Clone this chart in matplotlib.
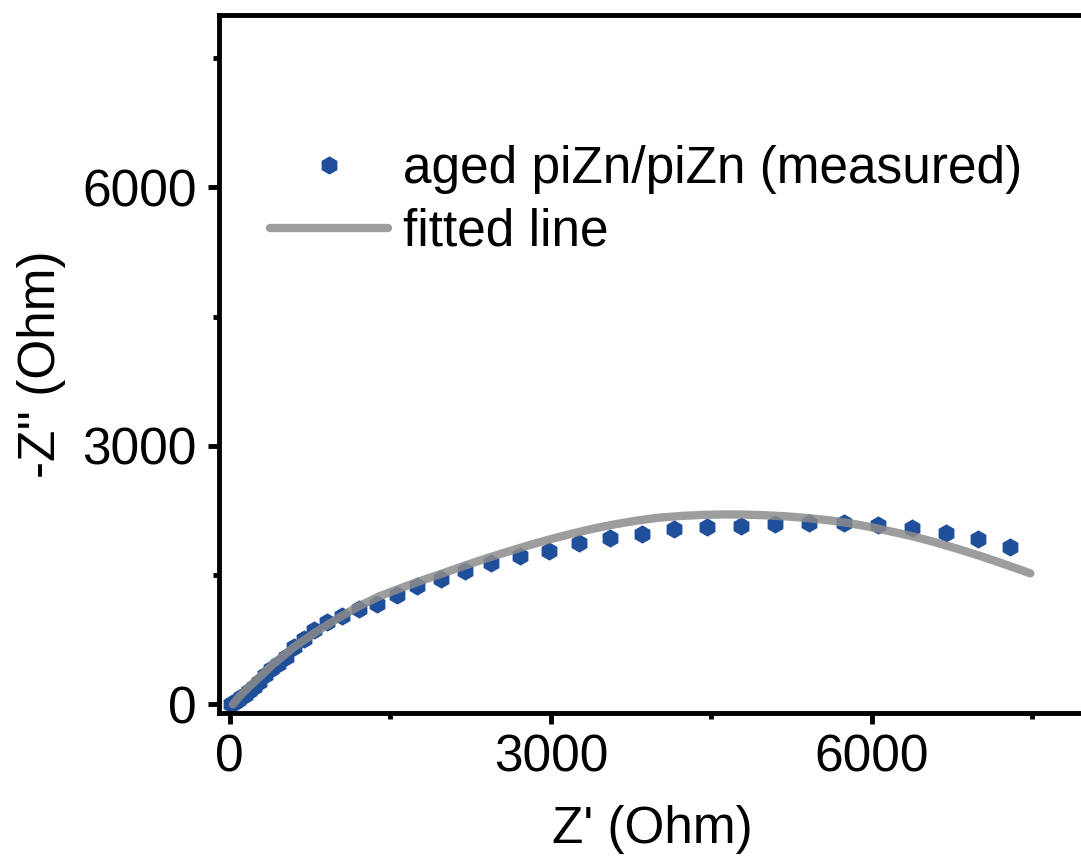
import matplotlib
matplotlib.use("Agg")
import matplotlib.pyplot as plt
from matplotlib.ticker import MultipleLocator

plt.rcParams['font.family'] = ['Liberation Sans', 'DejaVu Sans']

# Nyquist data: Z' and -Z'' in Ohm
z_real_meas = [15, 30, 50, 75, 105, 140, 180, 225, 275, 330, 390, 455, 525,
               600, 690, 790, 908, 1049, 1205, 1377, 1565, 1753, 1972, 2200,
               2445, 2710, 2985, 3260, 3550, 3850, 4153, 4460, 4779, 5095,
               5415, 5743, 6056, 6376, 6692, 6995, 7293]
z_imag_meas = [5, 15, 30, 55, 85, 110, 150, 205, 265, 335, 410, 470, 555,
               660, 760, 860, 950, 1030, 1110, 1170, 1265, 1373, 1450, 1547,
               1636, 1720, 1785, 1870, 1933, 1980, 2030, 2057, 2072, 2088,
               2100, 2100, 2077, 2042, 1984, 1914, 1825]

z_real_fit = [30, 100, 200, 400, 600, 800, 1000, 1200, 1400, 1600, 1800,
              2000, 2200, 2400, 2600, 2800, 3000, 3200, 3400, 3600, 3800,
              4000, 4200, 4400, 4600, 4800, 5000, 5200, 5400, 5600, 5800,
              6000, 6200, 6400, 6600, 6800, 7000, 7200, 7400, 7480]
z_imag_fit = [0, 105, 225, 460, 665, 835, 990, 1135, 1255, 1350, 1440,
              1525, 1612, 1695, 1773, 1848, 1918, 1982, 2040, 2090, 2132,
              2165, 2185, 2198, 2204, 2203, 2195, 2182, 2162, 2136, 2100,
              2055, 2000, 1945, 1878, 1805, 1727, 1643, 1556, 1520]

fig = plt.figure(figsize=(10.81, 8.59), dpi=100)
ax = fig.add_axes([0.2026, 0.170, 0.802, 0.8125])

ax.plot(z_real_meas, z_imag_meas, linestyle='none', marker='h', markersize=12,
        color='#1f4f9b', label='aged piZn/piZn (measured)', zorder=2)
ax.plot(z_real_fit, z_imag_fit, color='#8c8c8c', alpha=0.85, linewidth=6,
        solid_capstyle='round', solid_joinstyle='round',
        label='fitted line', zorder=3)

ax.set_xlim(-100, 8000)
ax.set_ylim(-100, 8000)
ax.xaxis.set_major_locator(MultipleLocator(3000))
ax.xaxis.set_minor_locator(MultipleLocator(1500))
ax.yaxis.set_major_locator(MultipleLocator(3000))
ax.yaxis.set_minor_locator(MultipleLocator(1500))

for s in ax.spines.values():
    s.set_linewidth(3.5)
ax.tick_params(which='major', direction='out', length=8, width=3.5, labelsize=37)
ax.tick_params(which='minor', direction='out', length=4, width=3.5)
ax.tick_params(axis='x', which='major', pad=7)
ax.tick_params(axis='y', which='major', pad=8)

ax.set_xlabel("Z' (Ohm)", fontsize=37, labelpad=16)
ax.set_ylabel("-Z'' (Ohm)", fontsize=37, labelpad=12)

ax.legend(loc='upper left', bbox_to_anchor=(0.2498, 0.8312),
          bbox_transform=fig.transFigure, frameon=False, fontsize=37,
          handlelength=2.3, handletextpad=0.29, labelspacing=0.27,
          borderpad=0, borderaxespad=0, numpoints=1)

fig.savefig('out.png', dpi=100)
